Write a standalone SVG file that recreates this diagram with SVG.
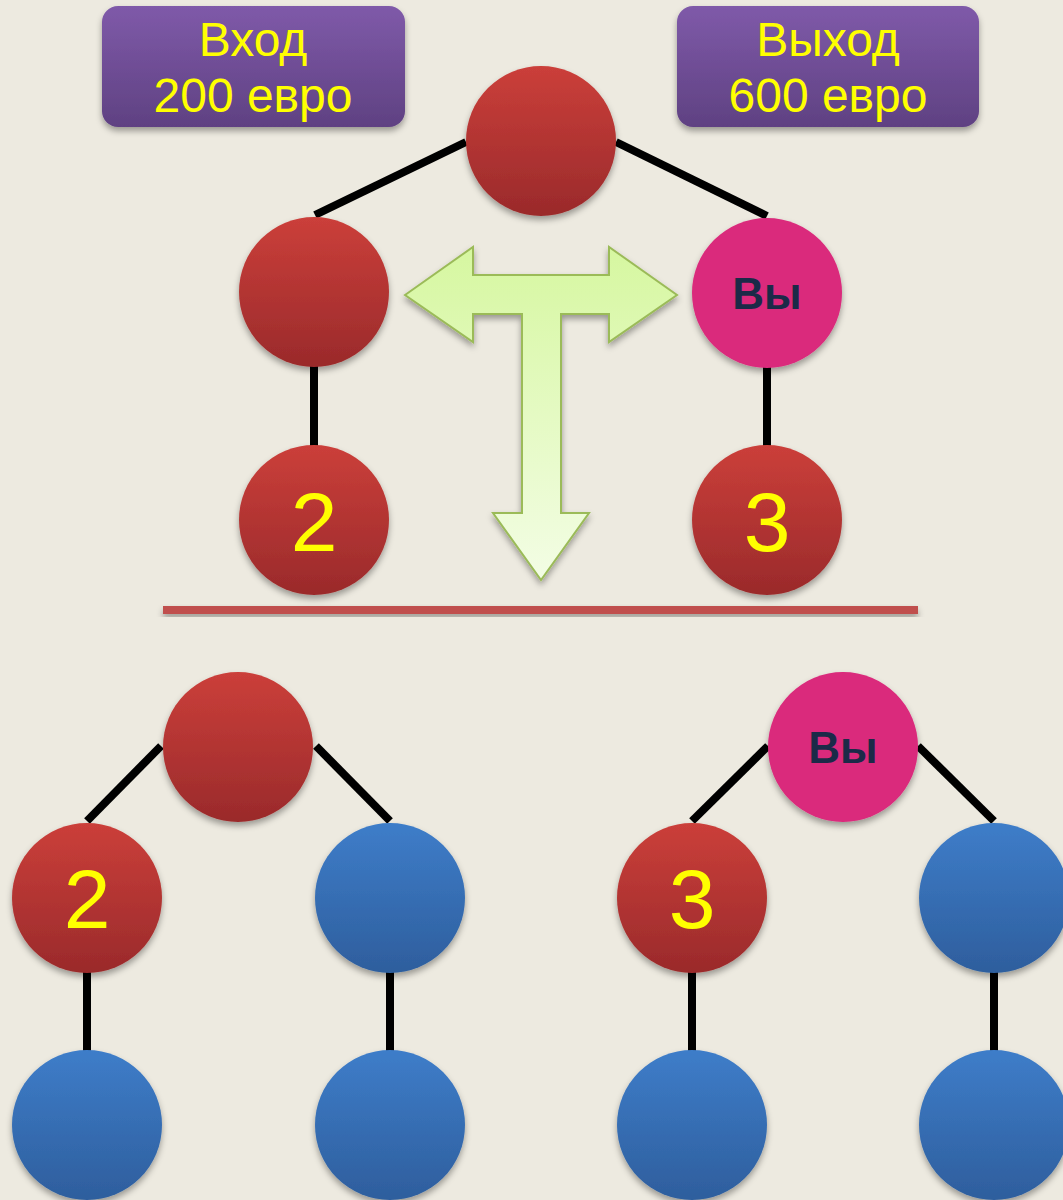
<svg xmlns="http://www.w3.org/2000/svg" width="1063" height="1200" viewBox="0 0 1063 1200">
<defs>
<linearGradient id="gRed" x1="0" y1="0" x2="0" y2="1"><stop offset="0" stop-color="#cb3f3a"/><stop offset="1" stop-color="#9a2a2b"/></linearGradient>
<linearGradient id="gBlue" x1="0" y1="0" x2="0" y2="1"><stop offset="0" stop-color="#3e7dc9"/><stop offset="1" stop-color="#2e5e9d"/></linearGradient>
<linearGradient id="gPurple" x1="0" y1="0" x2="0" y2="1"><stop offset="0" stop-color="#7f5aa9"/><stop offset="1" stop-color="#5f4182"/></linearGradient>
<linearGradient id="gArrow" x1="0" y1="0" x2="0" y2="1"><stop offset="0" stop-color="#d6f7a0"/><stop offset="1" stop-color="#f3fde5"/></linearGradient>
<filter id="sh" x="-20%" y="-20%" width="140%" height="150%"><feDropShadow dx="0" dy="4" stdDeviation="3" flood-color="#000" flood-opacity="0.35"/></filter>
</defs>
<style>
.edge{stroke:#000;stroke-width:8;fill:none}
.red{fill:url(#gRed);filter:url(#sh)}
.blue{fill:url(#gBlue);filter:url(#sh)}
.pink{fill:#da2a7b;filter:url(#sh)}
.box{fill:url(#gPurple);filter:url(#sh)}
.lbl{font-family:"Liberation Sans",Arial,sans-serif;font-size:48px;fill:#ffff00;text-anchor:middle}
.num{font-family:"Liberation Sans",Arial,sans-serif;font-size:84px;fill:#ffff00;text-anchor:middle}
.you{font-family:"Liberation Sans",Arial,sans-serif;font-size:44px;font-weight:bold;fill:#1b2a48;text-anchor:middle}
</style>
<rect width="1063" height="1200" fill="#edeae0"/>
<g id="connectors">
<line class="edge" x1="466" y1="142" x2="315" y2="215"/>
<line class="edge" x1="616" y1="142" x2="767" y2="216"/>
<line class="edge" x1="314" y1="365" x2="314" y2="447"/>
<line class="edge" x1="767" y1="367" x2="767" y2="447"/>
<line class="edge" x1="161" y1="746" x2="87" y2="821"/>
<line class="edge" x1="316" y1="746" x2="390" y2="821"/>
<line class="edge" x1="87" y1="971" x2="87" y2="1052"/>
<line class="edge" x1="390" y1="971" x2="390" y2="1052"/>
<line class="edge" x1="768" y1="746" x2="692" y2="821"/>
<line class="edge" x1="918" y1="746" x2="994" y2="821"/>
<line class="edge" x1="692" y1="971" x2="692" y2="1052"/>
<line class="edge" x1="994" y1="971" x2="994" y2="1052"/>
</g>
<g id="label-in"><rect class="box" x="102" y="6" width="303" height="121" rx="16"/><text class="lbl" x="253" y="56">Вход</text><text class="lbl" x="253" y="112">200 евро</text></g>
<g id="label-out"><rect class="box" x="677" y="6" width="302" height="121" rx="16"/><text class="lbl" x="828" y="56">Выход</text><text class="lbl" x="828" y="112">600 евро</text></g>
<g id="t-arrow"><path d="M405,295 L473,247 L473,275 L609,275 L609,247 L677,295 L609,342 L609,314 L561,314 L561,513 L589,513 L541,580 L493,513 L522,513 L522,314 L473,314 L473,342 Z" fill="url(#gArrow)" stroke="#9bbb59" stroke-width="2" stroke-linejoin="miter" filter="url(#sh)"/></g>
<g id="top-root"><circle class="red" cx="541" cy="141" r="75"/></g>
<g id="top-left"><circle class="red" cx="314" cy="292" r="75"/></g>
<g id="top-you"><circle class="pink" cx="767" cy="293" r="75"/><text class="you" x="767" y="309">Вы</text></g>
<g id="top-2"><circle class="red" cx="314" cy="520" r="75"/><text class="num" x="314" y="551">2</text></g>
<g id="top-3"><circle class="red" cx="767" cy="520" r="75"/><text class="num" x="767" y="551">3</text></g>
<g id="divider"><rect x="163" y="606" width="755" height="8" fill="#c0504d" filter="url(#sh)"/></g>
<g id="bl-root"><circle class="red" cx="238" cy="747" r="75"/></g>
<g id="bl-2"><circle class="red" cx="87" cy="898" r="75"/><text class="num" x="87" y="928">2</text></g>
<g id="bl-right"><circle class="blue" cx="390" cy="898" r="75"/></g>
<g id="bl-ll"><circle class="blue" cx="87" cy="1125" r="75"/></g>
<g id="bl-rl"><circle class="blue" cx="390" cy="1125" r="75"/></g>
<g id="br-you"><circle class="pink" cx="843" cy="747" r="75"/><text class="you" x="843" y="763">Вы</text></g>
<g id="br-3"><circle class="red" cx="692" cy="898" r="75"/><text class="num" x="692" y="928">3</text></g>
<g id="br-right"><circle class="blue" cx="994" cy="898" r="75"/></g>
<g id="br-ll"><circle class="blue" cx="692" cy="1125" r="75"/></g>
<g id="br-rl"><circle class="blue" cx="994" cy="1125" r="75"/></g>
</svg>
